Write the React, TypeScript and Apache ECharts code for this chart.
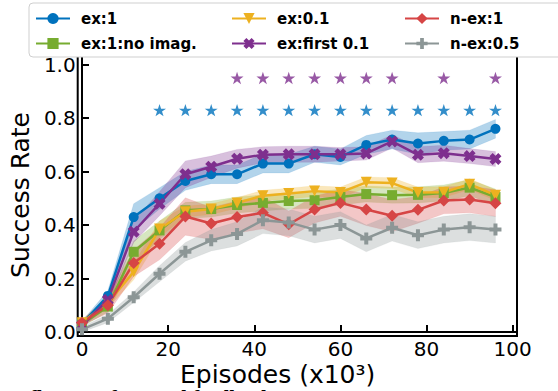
import React, { useEffect, useRef } from 'react';
import * as echarts from 'echarts';

// ---- data ----
const episodes = [0, 6, 12, 18, 24, 30, 36, 42, 48, 54, 60, 66, 72, 78, 84, 90, 96];

const exOneMean = [0.03, 0.135, 0.43, 0.5, 0.565, 0.59, 0.59, 0.63, 0.63, 0.665, 0.655, 0.7, 0.72, 0.705, 0.715, 0.72, 0.76];
const exOneStd = [0.01, 0.02, 0.05, 0.04, 0.035, 0.035, 0.035, 0.035, 0.035, 0.03, 0.03, 0.035, 0.035, 0.04, 0.035, 0.035, 0.035];

const noImagMean = [0.03, 0.095, 0.3, 0.38, 0.455, 0.46, 0.475, 0.483, 0.49, 0.493, 0.505, 0.516, 0.512, 0.513, 0.52, 0.54, 0.505];
const noImagStd = [0.01, 0.02, 0.04, 0.035, 0.03, 0.03, 0.03, 0.03, 0.03, 0.03, 0.03, 0.03, 0.03, 0.03, 0.03, 0.03, 0.03];

const exPointOneMean = [0.035, 0.11, 0.225, 0.385, 0.45, 0.46, 0.483, 0.51, 0.518, 0.527, 0.522, 0.56, 0.557, 0.522, 0.523, 0.553, 0.512];
const exPointOneStd = [0.01, 0.02, 0.03, 0.03, 0.02, 0.02, 0.02, 0.02, 0.02, 0.02, 0.02, 0.02, 0.02, 0.02, 0.02, 0.02, 0.02];

const firstPointOneMean = [0.025, 0.12, 0.375, 0.48, 0.59, 0.618, 0.648, 0.663, 0.665, 0.665, 0.665, 0.668, 0.713, 0.663, 0.669, 0.658, 0.647];
const firstPointOneStd = [0.01, 0.02, 0.04, 0.045, 0.05, 0.04, 0.035, 0.03, 0.03, 0.03, 0.025, 0.025, 0.025, 0.03, 0.03, 0.028, 0.028];

const nExOneMean = [0.035, 0.1, 0.258, 0.33, 0.432, 0.406, 0.43, 0.446, 0.403, 0.458, 0.483, 0.458, 0.435, 0.457, 0.492, 0.496, 0.482];
const nExOneStd = [0.01, 0.03, 0.05, 0.06, 0.07, 0.06, 0.06, 0.06, 0.05, 0.05, 0.05, 0.06, 0.06, 0.05, 0.05, 0.05, 0.05];

const nExHalfMean = [0.01, 0.05, 0.13, 0.218, 0.3, 0.343, 0.367, 0.418, 0.41, 0.383, 0.4, 0.35, 0.39, 0.362, 0.383, 0.392, 0.383];
const nExHalfStd = [0.01, 0.015, 0.02, 0.03, 0.035, 0.04, 0.045, 0.05, 0.05, 0.05, 0.05, 0.05, 0.05, 0.05, 0.05, 0.05, 0.05];

const starExOneX = [18, 24, 30, 36, 42, 48, 54, 60, 66, 72, 78, 84, 90, 96];
const starExOneY = 0.83;
const starFirstX = [36, 42, 48, 54, 60, 66, 72, 84, 96];
const starFirstY = 0.95;

const xTicks = [0, 20, 40, 60, 80, 100];
const yTicks = [0, 0.2, 0.4, 0.6, 0.8, 1.0];

// ---- symbols ----
function starPath(): string {
  const pts: string[] = [];
  for (let k = 0; k < 10; k++) {
    const r = k % 2 === 0 ? 1 : 0.382;
    const a = -Math.PI / 2 + (k * Math.PI) / 5;
    pts.push(`${(r * Math.cos(a)).toFixed(3)},${(r * Math.sin(a)).toFixed(3)}`);
  }
  return 'path://M' + pts.join(' L') + ' Z';
}
const STAR = starPath();
const TRI_DOWN = 'path://M0,0 L10,0 L5,9 Z';
const X_FILLED = 'path://M0,1.6 L1.6,0 L3,1.4 L4.4,0 L6,1.6 L4.6,3 L6,4.4 L4.4,6 L3,4.6 L1.6,6 L0,4.4 L1.4,3 Z';
const PLUS_FILLED = 'path://M2,0 L4,0 L4,2 L6,2 L6,4 L4,4 L4,6 L2,6 L2,4 L0,4 L0,2 L2,2 Z';

const FONT = 'DejaVu Sans';

const defs = [
  { name: 'ex:1', mean: exOneMean, std: exOneStd, color: '#0072BD', symbol: 'circle', size: 10 },
  { name: 'ex:1:no imag.', mean: noImagMean, std: noImagStd, color: '#77AC30', symbol: 'rect', size: 10 },
  { name: 'ex:0.1', mean: exPointOneMean, std: exPointOneStd, color: '#EDB120', symbol: TRI_DOWN, size: 11 },
  { name: 'ex:first 0.1', mean: firstPointOneMean, std: firstPointOneStd, color: '#7E2F8E', symbol: X_FILLED, size: 12 },
  { name: 'n-ex:1', mean: nExOneMean, std: nExOneStd, color: '#D64545', symbol: 'diamond', size: 12 },
  { name: 'n-ex:0.5', mean: nExHalfMean, std: nExHalfStd, color: '#8C9696', symbol: PLUS_FILLED, size: 12 },
];

function buildOption() {
  const series: any[] = [];
  defs.forEach((d, k) => {
    series.push({
      type: 'custom',
      name: '_band' + k,
      data: episodes.map((x, i) => [x, d.mean[i]]),
      encode: { x: 0, y: 1 },
      silent: true,
      clip: true,
      z: 1,
      renderItem: (params: any, api: any) => {
        if (params.dataIndex !== 0) return null;
        const upper = episodes.map((x, i) => api.coord([x, d.mean[i] + d.std[i]]));
        const lower = episodes.map((x, i) => api.coord([x, d.mean[i] - d.std[i]])).reverse();
        return {
          type: 'polygon',
          shape: { points: upper.concat(lower) },
          style: { fill: d.color, opacity: 0.3, stroke: d.color, lineWidth: 1, strokeOpacity: 0.3 },
        };
      },
    });
  });
  defs.forEach((d) => {
    series.push({
      type: 'line',
      name: d.name,
      data: episodes.map((x, i) => [x, d.mean[i]]),
      symbol: d.symbol,
      symbolSize: d.size,
      color: d.color,
      itemStyle: { color: d.color },
      lineStyle: { color: d.color, width: 2.5 },
      z: 2,
    });
  });
  series.push({
    type: 'scatter',
    name: '_starA',
    data: starExOneX.map((x) => [x, starExOneY]),
    symbol: STAR,
    symbolSize: 13,
    symbolKeepAspect: true,
    itemStyle: { color: defs[0].color },
    z: 3,
  });
  series.push({
    type: 'scatter',
    name: '_starB',
    data: starFirstX.map((x) => [x, starFirstY]),
    symbol: STAR,
    symbolSize: 13,
    symbolKeepAspect: true,
    itemStyle: { color: defs[3].color },
    z: 3,
  });

  const legendBase = {
    orient: 'vertical',
    top: 11,
    padding: 0,
    itemWidth: 34,
    itemHeight: 14,
    itemGap: 10,
    z: 6,
    textStyle: { fontFamily: FONT, fontWeight: 'bold', fontSize: 15, color: '#000', padding: [0, 0, 0, 6] },
  };

  return {
    animation: false,
    backgroundColor: '#fff',
    grid: { left: 77, right: 41, top: 54, bottom: 55, show: true, borderColor: '#000', borderWidth: 2, backgroundColor: 'transparent' },
    legend: [
      { ...legendBase, left: 35, data: [defs[0].name, defs[1].name] },
      { ...legendBase, left: 231, data: [defs[2].name, defs[3].name] },
      { ...legendBase, left: 404, data: [defs[4].name, defs[5].name] },
    ],
    xAxis: {
      type: 'value',
      min: -1,
      max: 101,
      axisLine: { show: true, lineStyle: { color: '#000', width: 2 } },
      axisTick: { show: true, inside: true, length: 7, lineStyle: { color: '#000', width: 2 }, customValues: xTicks },
      axisLabel: { customValues: xTicks, fontSize: 20, color: '#000', fontFamily: FONT, margin: 3 },
      splitLine: { show: false },
    },
    yAxis: {
      type: 'value',
      min: -0.015,
      max: 1.04,
      name: 'Success Rate',
      nameLocation: 'middle',
      nameGap: 30,
      nameTextStyle: { fontSize: 25, fontFamily: FONT, color: '#000' },
      axisLine: { show: true, lineStyle: { color: '#000', width: 2 } },
      axisTick: { show: true, inside: true, length: 7, lineStyle: { color: '#000', width: 2 }, customValues: yTicks },
      axisLabel: {
        customValues: yTicks,
        fontSize: 20,
        color: '#000',
        fontFamily: FONT,
        margin: 2,
        formatter: (v: number) => v.toFixed(1),
      },
      splitLine: { show: false },
    },
    graphic: [
      {
        type: 'rect',
        z: 5,
        shape: { x: 29, y: 3, width: 560, height: 54, r: 4 },
        style: { fill: '#fff', stroke: '#cfcfcf', lineWidth: 1 },
      },
      {
        type: 'text',
        z: 5,
        x: 180,
        y: 374,
        style: { text: 'Episodes (x10³)', font: `25px "${FONT}"`, fill: '#000', textVerticalAlign: 'middle', textAlign: 'left' },
      },
      {
        type: 'text',
        z: 4,
        x: 10,
        y: 398,
        style: { text: 'Influence of reward feedback on', font: 'bold 21px "Liberation Serif"', fill: '#000', textVerticalAlign: 'middle', textAlign: 'left' },
      },
    ],
    series,
  };
}

export default function App() {
  const ref = useRef<HTMLDivElement>(null);
  useEffect(() => {
    if (!ref.current) return;
    const chart = echarts.init(ref.current, null, { renderer: 'svg' });
    chart.setOption(buildOption() as any);
    return () => chart.dispose();
  }, []);
  return <div ref={ref} style={{ position: 'fixed', left: 0, top: 0, width: 558, height: 391 }} />;
}
